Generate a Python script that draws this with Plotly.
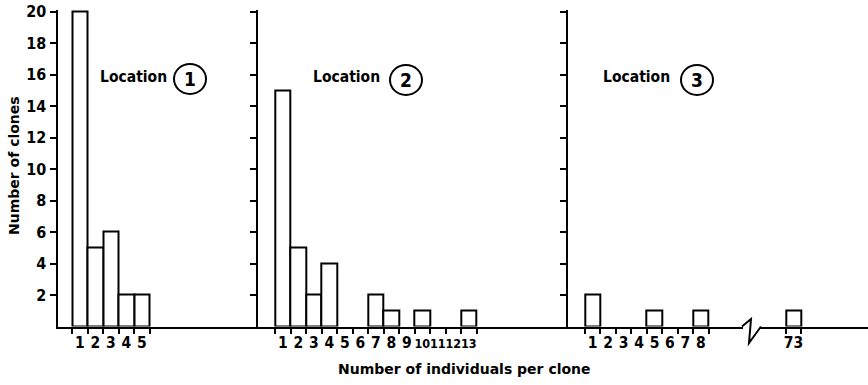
import plotly.graph_objects as go

# ---------------- data ----------------
loc1_sizes = [1, 2, 3, 4, 5]
loc1_counts = [20, 5, 6, 2, 2]
loc2_sizes = [1, 2, 3, 4, 7, 8, 10, 13]
loc2_counts = [15, 5, 2, 4, 2, 1, 1, 1]
loc3_sizes = [1, 5, 8, 73]
loc3_counts = [2, 1, 1, 1]

loc1_ticks = [1, 2, 3, 4, 5]
loc2_ticks = list(range(1, 14))
loc3_ticks = [1, 2, 3, 4, 5, 6, 7, 8, 73]
y_ticks = [2, 4, 6, 8, 10, 12, 14, 16, 18, 20]

panel_labels = ["1", "2", "3"]

# axis break in panel 3: values above BREAK_AFTER are shifted left
BREAK_AFTER = 8
BREAK_SHIFT = 59


def pos3(v):
    return v if v <= BREAK_AFTER else v - BREAK_SHIFT


# ---------------- geometry ----------------
W, H = 868, 385
Y0_PX, Y20_PX = 326.5, 11.5
UNIT_Y = (Y0_PX - Y20_PX) / 20.0
YTOP = 20.12


def fx(p):
    return p / W


def fy(p):
    return (H - p) / H


y_dom = [fy(Y0_PX), fy(Y0_PX - UNIT_Y * YTOP)]

# panel: (left axis px, right px, bin1 centre px, px per bin)
panels = [
    (57.5, 258.3, 79.75, 15.5),
    (258.3, 568.3, 282.75, 15.5),
    (568.3, 868.0, 592.7, 15.45),
]


def xrange(p):
    left, right, c1, u = p
    return [1 + (left - c1) / u, 1 + (right - c1) / u]


NARROW = "DejaVu Sans Condensed, DejaVu Sans, sans-serif"
TITLE_FONT = "DejaVu Sans, sans-serif"


def tick_label(v):
    s = str(v)
    if len(s) > 1 and v < 50:
        return '<span style="font-size:12.5px">' + s + "</span>"
    return s


fig = go.Figure()

series = [
    (loc1_sizes, loc1_counts, "x", "y"),
    (loc2_sizes, loc2_counts, "x2", "y2"),
    ([pos3(v) for v in loc3_sizes], loc3_counts, "x3", "y3"),
]
for xs, ys, xa, ya in series:
    fig.add_trace(go.Bar(
        x=xs, y=ys, width=1, xaxis=xa, yaxis=ya,
        marker=dict(color="white", line=dict(color="black", width=2)),
        showlegend=False, hoverinfo="x+y",
    ))

tick_sets = [
    (loc1_ticks, loc1_ticks),
    (loc2_ticks, loc2_ticks),
    ([pos3(v) for v in loc3_ticks], loc3_ticks),
]

layout = dict(
    width=W, height=H,
    margin=dict(l=0, r=0, t=0, b=0, autoexpand=False),
    paper_bgcolor="white", plot_bgcolor="rgba(0,0,0,0)",
    bargap=0,
    showlegend=False,
)

xtickfont = dict(family=NARROW, size=15.5, color="black", weight="bold")
ytickfont = dict(family=NARROW, size=16, color="black", weight="bold")

for i, (p, (tv, tt)) in enumerate(zip(panels, tick_sets)):
    sfx = "" if i == 0 else str(i + 1)
    edges = sorted(set([v - 0.5 for v in tv] + [v + 0.5 for v in tv]))
    layout["xaxis" + sfx] = dict(
        domain=[fx(p[0]), fx(p[1])], range=xrange(p), anchor="y" + sfx,
        showgrid=False, zeroline=False,
        showline=True, linecolor="black", linewidth=2,
        tickmode="array", tickvals=tv, ticktext=[tick_label(t) for t in tt],
        ticks="", tickangle=0, ticklabelstandoff=1,
        tickfont=xtickfont,
        minor=dict(tickmode="array", tickvals=edges, ticks="outside",
                   ticklen=5, tickwidth=1.5, tickcolor="black", showgrid=False),
        fixedrange=True, automargin=False,
    )
    layout["yaxis" + sfx] = dict(
        domain=y_dom, range=[0, YTOP], anchor="x" + sfx,
        showgrid=False, zeroline=False,
        showline=True, linecolor="black", linewidth=2,
        tickmode="array", tickvals=y_ticks, ticks="outside",
        ticklen=6, tickwidth=2, tickcolor="black",
        showticklabels=(i == 0),
        tickfont=ytickfont,
        fixedrange=True, automargin=False,
    )

fig.update_layout(**layout)

# "Location (n)" labels with circled numbers
loc_text_px = [(133, 77), (346, 77), (636.5, 77)]
circ_px = [(190, 79), (406, 80), (697, 80)]
for (tx, ty), (cx, cy), lab in zip(loc_text_px, circ_px, panel_labels):
    fig.add_annotation(x=fx(tx), y=fy(ty), xref="paper", yref="paper",
                       text="Location", showarrow=False,
                       font=dict(family=NARROW, size=15.5, color="black", weight="bold"),
                       xanchor="center", yanchor="middle")
    fig.add_shape(type="circle", xref="paper", yref="paper",
                  x0=fx(cx - 16), x1=fx(cx + 16), y0=fy(cy + 15), y1=fy(cy - 15),
                  line=dict(color="black", width=2), fillcolor="rgba(0,0,0,0)")
    fig.add_annotation(x=fx(cx), y=fy(cy), xref="paper", yref="paper",
                       text=lab, showarrow=False,
                       font=dict(family=NARROW, size=19, color="black", weight="bold"),
                       xanchor="center", yanchor="middle")

# axis break symbol on panel 3 baseline
fig.add_shape(type="rect", xref="paper", yref="paper",
              x0=fx(743), x1=fx(760), y0=fy(329), y1=fy(324),
              line=dict(width=0), fillcolor="white", layer="above")
fig.add_shape(type="path", xref="paper", yref="paper",
              path="M {} {} L {} {} L {} {} L {} {}".format(
                  fx(742), fy(326.5), fx(751), fy(319),
                  fx(749), fy(343), fx(761), fy(326.5)),
              line=dict(color="black", width=2), layer="above")

# axis titles
title_font = dict(family=TITLE_FONT, size=14, color="black", weight="bold")
fig.add_annotation(x=fx(14), y=fy(166), xref="paper", yref="paper",
                   text="Number of clones", textangle=-90, showarrow=False,
                   font=title_font, xanchor="center", yanchor="middle")
fig.add_annotation(x=fx(464), y=fy(369), xref="paper", yref="paper",
                   text="Number of individuals per clone", showarrow=False,
                   font=title_font, xanchor="center", yanchor="middle")

fig.write_html(
    "out.html",
    config={"displayModeBar": False},
    post_script="document.body.style.margin='0';document.body.style.overflow='hidden';",
)
